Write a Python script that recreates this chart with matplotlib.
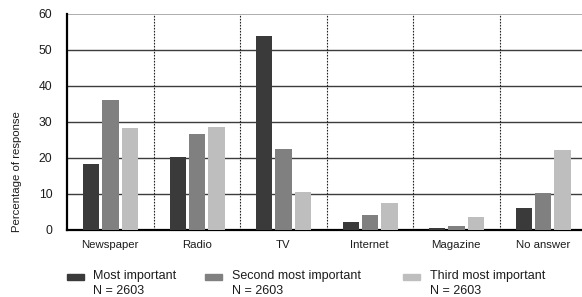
import numpy as np
import matplotlib
matplotlib.use("Agg")
from matplotlib import pyplot as plt
from matplotlib.patches import Rectangle

categories = ["Newspaper", "Radio", "TV", "Internet", "Magazine", "No answer"]
most_important = [18.2, 20.3, 54.0, 2.2, 0.6, 6.1]
second_important = [36.0, 26.8, 22.6, 4.1, 1.1, 10.2]
third_important = [28.3, 28.5, 10.5, 7.6, 3.5, 22.2]
series_names = ["Most important", "Second most important", "Third most important"]
n_label = "N = 2603"
yticks = [0, 10, 20, 30, 40, 50, 60]

colors = ["#3a3a3a", "#808080", "#bebebe"]
txt = "#1c1c1c"

plt.rcParams['font.family'] = ['Liberation Sans', 'DejaVu Sans']
plt.rcParams['font.size'] = 8

fig = plt.figure(figsize=(5.82, 2.97), dpi=100)
ax = fig.add_axes([67/582, 67/297, 519/582, 216/297])

x = np.arange(len(categories))
w = 0.19
step = 0.225
for i, vals in enumerate([most_important, second_important, third_important]):
    ax.bar(x + (i - 1) * step + 0.005, vals, width=w, color=colors[i], zorder=3)

ax.set_xlim(-0.5, len(categories) - 0.5)
ax.set_ylim(0, 60)
ax.set_yticks(yticks)
ax.set_xticks(x)
ax.set_xticklabels(categories)
ax.tick_params(length=0, colors=txt)
ax.tick_params(axis='x', pad=7.5, labelsize=8.2)
ax.tick_params(axis='y', pad=10.5, labelsize=8.7)

# horizontal gridlines
for v in yticks[1:-1]:
    ax.axhline(v, color="#3c3c3c", lw=1.0, zorder=1)
ax.axhline(60, color="#a0a0a0", lw=1.2, zorder=1)
# group separators
for s in x[:-1] + 0.5:
    ax.axvline(s, color="#222222", lw=0.8, ls=(0, (1.5, 1.2)), zorder=1)

for side in ["top", "right"]:
    ax.spines[side].set_visible(False)
ax.spines["left"].set_linewidth(1.6)
ax.spines["bottom"].set_linewidth(1.6)
ax.spines["left"].set_color("black")
ax.spines["bottom"].set_color("black")

fig.text(17/582, 1 - 172/297, "Percentage of response", rotation=90,
         ha="center", va="center", fontsize=8.2, color=txt)

# legend drawn by hand to keep the marker next to the first line
marker_x = [67, 205, 403]
text_x = [93, 232, 430]
for i, name in enumerate(series_names):
    fig.patches.append(Rectangle((marker_x[i]/582, 1 - 280/297), 17/582, 6/297,
                                 transform=fig.transFigure, color=colors[i]))
    fig.text(text_x[i]/582, 1 - 279/297, name, ha="left", va="baseline",
             fontsize=9, color=txt)
    fig.text(text_x[i]/582, 1 - 294/297, n_label, ha="left", va="baseline",
             fontsize=9, color=txt)

fig.savefig("out.png", dpi=100)
